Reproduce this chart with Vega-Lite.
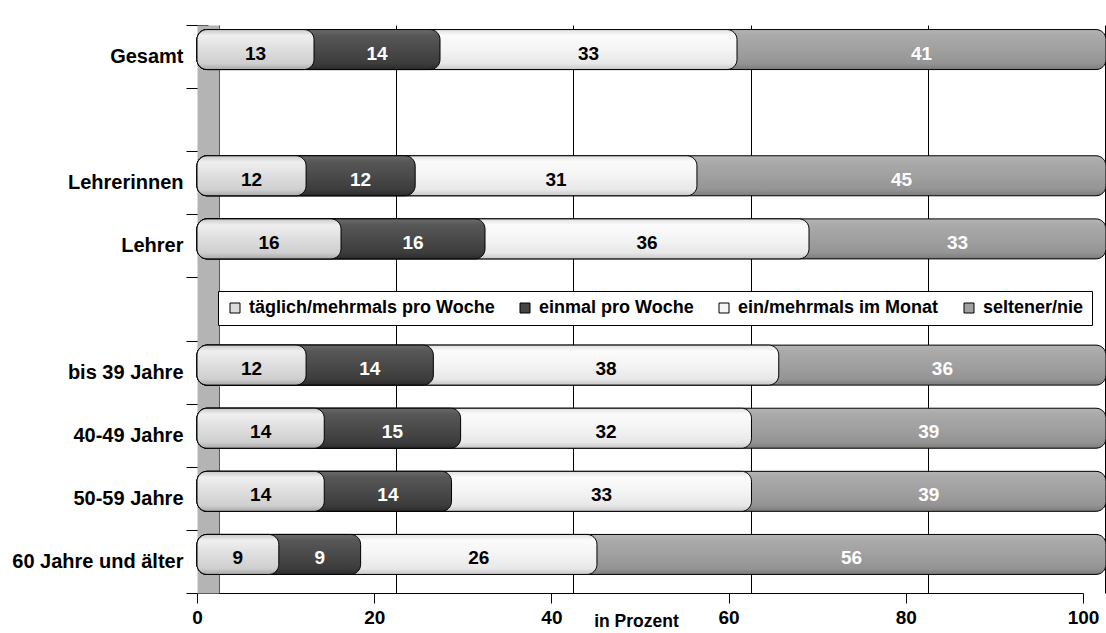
{
  "$schema": "https://vega.github.io/schema/vega-lite/v6.json",
  "width": 886,
  "height": 568,
  "autosize": "none",
  "padding": {"left": 197, "top": 25, "right": 23, "bottom": 40},
  "background": "white",
  "config": {"view": {"stroke": null}, "font": "Liberation Sans"},
  "data": {"values": [
    {"g": "Gesamt", "s": "seltener/nie", "k": 4, "v": 41},
    {"g": "Gesamt", "s": "ein/mehrmals im Monat", "k": 3, "v": 33},
    {"g": "Gesamt", "s": "einmal pro Woche", "k": 2, "v": 14},
    {"g": "Gesamt", "s": "täglich/mehrmals pro Woche", "k": 1, "v": 13},
    {"g": "Lehrerinnen", "s": "seltener/nie", "k": 4, "v": 45},
    {"g": "Lehrerinnen", "s": "ein/mehrmals im Monat", "k": 3, "v": 31},
    {"g": "Lehrerinnen", "s": "einmal pro Woche", "k": 2, "v": 12},
    {"g": "Lehrerinnen", "s": "täglich/mehrmals pro Woche", "k": 1, "v": 12},
    {"g": "Lehrer", "s": "seltener/nie", "k": 4, "v": 33},
    {"g": "Lehrer", "s": "ein/mehrmals im Monat", "k": 3, "v": 36},
    {"g": "Lehrer", "s": "einmal pro Woche", "k": 2, "v": 16},
    {"g": "Lehrer", "s": "täglich/mehrmals pro Woche", "k": 1, "v": 16},
    {"g": "bis 39 Jahre", "s": "seltener/nie", "k": 4, "v": 36},
    {"g": "bis 39 Jahre", "s": "ein/mehrmals im Monat", "k": 3, "v": 38},
    {"g": "bis 39 Jahre", "s": "einmal pro Woche", "k": 2, "v": 14},
    {"g": "bis 39 Jahre", "s": "täglich/mehrmals pro Woche", "k": 1, "v": 12},
    {"g": "40-49 Jahre", "s": "seltener/nie", "k": 4, "v": 39},
    {"g": "40-49 Jahre", "s": "ein/mehrmals im Monat", "k": 3, "v": 32},
    {"g": "40-49 Jahre", "s": "einmal pro Woche", "k": 2, "v": 15},
    {"g": "40-49 Jahre", "s": "täglich/mehrmals pro Woche", "k": 1, "v": 14},
    {"g": "50-59 Jahre", "s": "seltener/nie", "k": 4, "v": 39},
    {"g": "50-59 Jahre", "s": "ein/mehrmals im Monat", "k": 3, "v": 33},
    {"g": "50-59 Jahre", "s": "einmal pro Woche", "k": 2, "v": 14},
    {"g": "50-59 Jahre", "s": "täglich/mehrmals pro Woche", "k": 1, "v": 14},
    {"g": "60 Jahre und älter", "s": "seltener/nie", "k": 4, "v": 56},
    {"g": "60 Jahre und älter", "s": "ein/mehrmals im Monat", "k": 3, "v": 26},
    {"g": "60 Jahre und älter", "s": "einmal pro Woche", "k": 2, "v": 9},
    {"g": "60 Jahre und älter", "s": "täglich/mehrmals pro Woche", "k": 1, "v": 9}
  ]},
  "layer": [
    {
      "mark": {"type": "point", "opacity": 0},
      "encoding": {
        "x": {"field": "v", "type": "quantitative",
          "scale": {"domain": [0, 100], "range": [22, 908]},
          "axis": {"orient": "top", "values": [0, 20, 40, 60, 80, 100], "grid": true, "gridColor": "black", "gridOpacity": 1, "gridWidth": 1,
            "labels": false, "ticks": false, "domain": false, "title": null}}
      }
    },
    {
      "mark": {"type": "point", "opacity": 0},
      "encoding": {
        "x": {"field": "v", "type": "quantitative",
          "scale": {"domain": [0, 100]},
          "axis": {"orient": "bottom", "values": [0, 20, 40, 60, 80, 100], "grid": false,
            "domainColor": "black", "domainWidth": 1, "tickColor": "black", "tickSize": 10,
            "labelFont": "Liberation Sans", "labelFontWeight": "bold", "labelFontSize": 19, "labelColor": "black", "labelPadding": 5,
            "labelFlush": false,
            "title": "in Prozent", "titleFont": "Liberation Sans", "titleFontWeight": "bold", "titleFontSize": 17.5, "titleColor": "black",
            "titleX": 439, "titleY": 33, "titleBaseline": "alphabetic", "titleAlign": "center"}}
      }
    },
    {
      "transform": [
        {"stack": "v", "groupby": ["g"], "sort": [{"field": "k", "order": "ascending"}], "offset": "normalize", "as": ["x0", "x1"]}
      ],
      "encoding": {
        "y": {"field": "g", "type": "nominal",
          "scale": {"domain": ["Gesamt", "_a", "Lehrerinnen", "Lehrer", "_b", "bis 39 Jahre", "40-49 Jahre", "50-59 Jahre", "60 Jahre und älter"], "paddingInner": 0, "paddingOuter": 0},
          "axis": {"title": null, "tickBand": "extent", "offset": -11, "domainWidth": 22, "domainColor": "#b4b4b4",
            "tickSize": 22, "tickColor": "black", "labelFont": "Liberation Sans", "labelFontWeight": "bold", "labelFontSize": 20,
            "labelColor": "black", "labelPadding": 3, "labelLimit": 250,
            "labelExpr": "indexof(datum.label, '_') == 0 ? '' : datum.label"}}
      },
      "layer": [
        {
          "mark": {"type": "bar", "size": 40, "opacity": 0, "yOffset": -7},
          "encoding": {
            "x": {"field": "x1", "type": "quantitative", "scale": {"domain": [0, 1], "range": [0, 909]}, "axis": null},
            "x2": {"datum": 0},
            "color": {"field": "s", "type": "nominal",
              "scale": {
                "domain": ["täglich/mehrmals pro Woche", "einmal pro Woche", "ein/mehrmals im Monat", "seltener/nie"],
                "range": ["#dcdcdc", "#454545", "#f6f6f6", "#a0a0a0"]
              },
              "legend": {"orient": "none", "legendX": 21, "legendY": 266, "direction": "horizontal", "columns": 4, "title": null,
                "strokeColor": "black", "fillColor": "white", "padding": 8, "symbolOpacity": 1,
                "labelFont": "Liberation Sans", "labelFontWeight": "bold", "labelFontSize": 18, "labelColor": "black", "labelLimit": 400,
                "labelOffset": 5, "symbolType": "square", "symbolSize": 100, "symbolStrokeColor": "black", "symbolStrokeWidth": 1,
                "columnPadding": 21}}
          }
        },
        {
          "transform": [{"filter": "datum.k == 4"}],
          "mark": {"type": "bar", "size": 40, "cornerRadius": 10, "stroke": "black", "strokeWidth": 1, "yOffset": -7,
            "fill": {"gradient": "linear", "x1": 0, "y1": 0, "x2": 0, "y2": 1, "stops": [
              {"offset": 0, "color": "#b4b4b4"}, {"offset": 0.15, "color": "#aaaaaa"}, {"offset": 0.5, "color": "#a0a0a0"}, {"offset": 0.85, "color": "#949494"}, {"offset": 1, "color": "#7a7a7a"}]}},
          "encoding": {
            "x": {"field": "x1", "type": "quantitative"},
            "x2": {"datum": 0}
          }
        },
        {
          "transform": [{"filter": "datum.k == 3"}],
          "mark": {"type": "bar", "size": 40, "cornerRadius": 10, "stroke": "black", "strokeWidth": 1, "yOffset": -7,
            "fill": {"gradient": "linear", "x1": 0, "y1": 0, "x2": 0, "y2": 1, "stops": [
              {"offset": 0, "color": "#e0e0e0"}, {"offset": 0.15, "color": "#fbfbfb"}, {"offset": 0.5, "color": "#f4f4f4"}, {"offset": 0.85, "color": "#e8e8e8"}, {"offset": 1, "color": "#c8c8c8"}]}},
          "encoding": {
            "x": {"field": "x1", "type": "quantitative"},
            "x2": {"datum": 0}
          }
        },
        {
          "transform": [{"filter": "datum.k == 2"}],
          "mark": {"type": "bar", "size": 40, "cornerRadius": 10, "stroke": "black", "strokeWidth": 1, "yOffset": -7,
            "fill": {"gradient": "linear", "x1": 0, "y1": 0, "x2": 0, "y2": 1, "stops": [
              {"offset": 0, "color": "#6a6a6a"}, {"offset": 0.15, "color": "#575757"}, {"offset": 0.5, "color": "#4a4a4a"}, {"offset": 0.85, "color": "#3c3c3c"}, {"offset": 1, "color": "#2a2a2a"}]}},
          "encoding": {
            "x": {"field": "x1", "type": "quantitative"},
            "x2": {"datum": 0}
          }
        },
        {
          "transform": [{"filter": "datum.k == 1"}],
          "mark": {"type": "bar", "size": 40, "cornerRadius": 10, "stroke": "black", "strokeWidth": 1, "yOffset": -7,
            "fill": {"gradient": "linear", "x1": 0, "y1": 0, "x2": 0, "y2": 1, "stops": [
              {"offset": 0, "color": "#c8c8c8"}, {"offset": 0.15, "color": "#efefef"}, {"offset": 0.5, "color": "#dedede"}, {"offset": 0.85, "color": "#cfcfcf"}, {"offset": 1, "color": "#a8a8a8"}]}},
          "encoding": {
            "x": {"field": "x1", "type": "quantitative"},
            "x2": {"datum": 0}
          }
        },
        {
          "mark": {"type": "text", "font": "Liberation Sans", "fontWeight": "bold", "fontSize": 19, "baseline": "middle", "yOffset": -3},
          "encoding": {
            "x": {"field": "v", "type": "quantitative", "stack": "normalize", "bandPosition": 0.5},
            "detail": {"field": "s"},
            "order": {"field": "k", "sort": "ascending"},
            "text": {"field": "v"},
            "color": {"condition": {"test": "datum.k == 2 || datum.k == 4", "value": "white"}, "value": "black"}
          }
        }
      ]
    }
  ],
  "resolve": {"scale": {"x": "independent"}, "axis": {"x": "independent"}}
}
